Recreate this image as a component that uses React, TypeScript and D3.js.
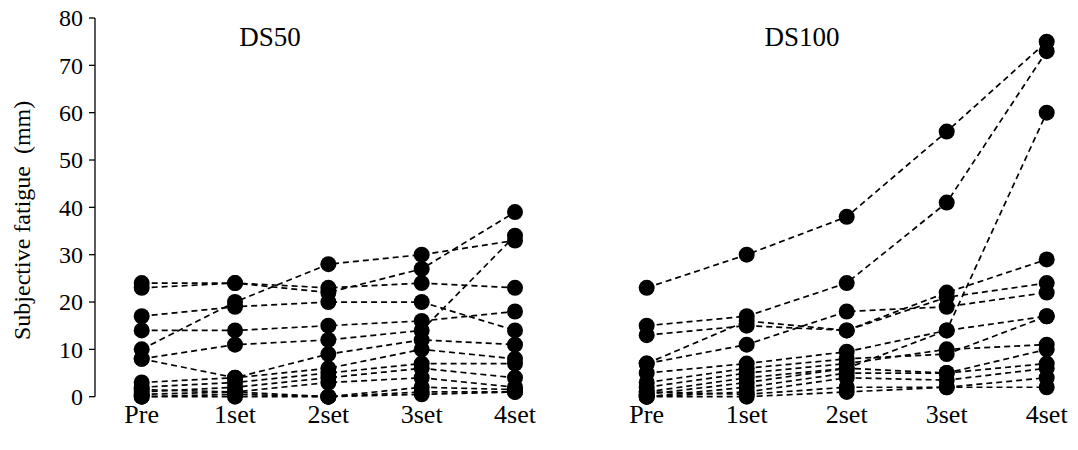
import React from "react";
import * as d3 from "d3";

const timepoints = ["Pre", "1set", "2set", "3set", "4set"];
const yTicks = [0, 10, 20, 30, 40, 50, 60, 70, 80];

// Subjective fatigue (mm), one row per participant
const ds50: number[][] = [
  [24, 24, 23, 24, 23],
  [23, 24, 22, 27, 39],
  [10, 20, 28, 30, 33],
  [17, 19, 20, 20, 14],
  [14, 14, 15, 16, 18],
  [8, 11, 12, 14, 34],
  [8, 4, 9, 12, 11],
  [3, 4, 6, 10, 8],
  [2, 3, 5, 7, 7],
  [1, 2, 4, 6, 4],
  [0.5, 1, 3, 4, 2],
  [0, 0.5, 0, 2, 1.5],
  [0, 0, 0, 1, 1],
  [1.5, 1, 0, 0.5, 1],
];

const ds100: number[][] = [
  [23, 30, 38, 56, 75],
  [15, 17, 24, 41, 73],
  [13, 15, 14, 22, 29],
  [7, 11, 18, 19, 22],
  [7, 16, 14, 21, 24],
  [5, 7, 9.5, 14, 60],
  [3, 6, 8, 9, 17],
  [2, 5, 7, 10, 11],
  [1, 4, 6, 14, 17],
  [0.5, 3, 6, 5, 10],
  [0, 2, 5, 5, 7],
  [0, 1, 4, 3.5, 6],
  [1, 0.5, 2, 2, 4],
  [0, 0, 1, 2, 2],
];

const panels = [
  { title: "DS50", data: ds50, range: [141.7, 515] as [number, number], titleX: 270 },
  { title: "DS100", data: ds100, range: [646.7, 1046.7] as [number, number], titleX: 802 },
];

const FONT = "'Liberation Serif', 'Times New Roman', serif";

export default function App() {
  const width = 1078;
  const height = 450;
  const y = d3.scaleLinear().domain([0, 80]).range([396.7, 18]);
  const axisX = 95;

  return (
    <svg width={width} height={height} style={{ position: "absolute", left: 0, top: 0, background: "#fff" }}>
      <rect width={width} height={height} fill="#fff" />
      {/* Y axis */}
      <line x1={axisX} x2={axisX} y1={y(0)} y2={y(80)} stroke="#000" strokeWidth={1.3} />
      {yTicks.map((t) => (
        <g key={t}>
          <line x1={axisX - 6} x2={axisX} y1={y(t)} y2={y(t)} stroke="#000" strokeWidth={1.3} />
          <text x={axisX - 12} y={y(t)} dy="0.35em" textAnchor="end" fontFamily={FONT} fontSize={24} fill="#000">
            {t}
          </text>
        </g>
      ))}
      <text
        transform={`translate(22, ${(y(0) + y(80)) / 2 + 13}) rotate(-90)`}
        textAnchor="middle"
        dy="0.35em"
        fontFamily={FONT}
        fontSize={24}
        fill="#000"
      >
        Subjective fatigue{"\u00a0\u00a0"}(mm)
      </text>
      {panels.map((p) => {
        const x = d3.scalePoint<string>().domain(timepoints).range(p.range);
        const line = d3
          .line<number>()
          .x((_, i) => x(timepoints[i]) as number)
          .y((v) => y(v));
        return (
          <g key={p.title}>
            <text x={p.titleX} y={37} dy="0.35em" textAnchor="middle" fontFamily={FONT} fontSize={27} fill="#000">
              {p.title}
            </text>
            {p.data.map((row, i) => (
              <path key={"l" + i} d={line(row) || ""} fill="none" stroke="#000" strokeWidth={1.7} strokeDasharray="6,4" />
            ))}
            {p.data.map((row, i) =>
              row.map((v, j) => (
                <circle key={"c" + i + "-" + j} cx={x(timepoints[j]) as number} cy={y(v)} r={8} fill="#000" />
              ))
            )}
            {timepoints.map((t) => (
              <text key={t} x={x(t) as number} y={414} dy="0.35em" textAnchor="middle" fontFamily={FONT} fontSize={26} fill="#000">
                {t}
              </text>
            ))}
          </g>
        );
      })}
    </svg>
  );
}
